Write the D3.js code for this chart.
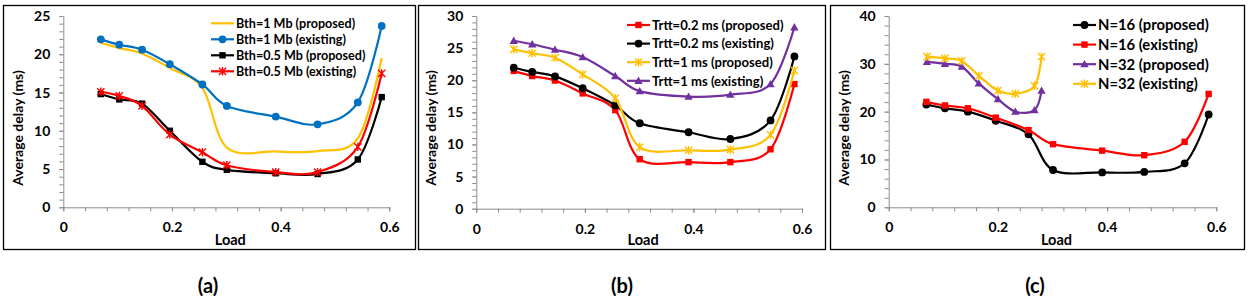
<!DOCTYPE html>
<html>
<head>
<meta charset="utf-8">
<script src="https://cdn.jsdelivr.net/npm/d3@7"></script>
<style>
  html, body { margin: 0; padding: 0; background: #fff; }
  svg { display: block; }
  text { font-family: Lato, "Open Sans", sans-serif; font-weight: bold; fill: #000; }
</style>
</head>
<body>
<svg id="chart" width="1248" height="301"></svg>
<script>
// ---------- data ----------
const loadX = [0.069, 0.103, 0.145, 0.196, 0.256, 0.301, 0.391, 0.468, 0.542, 0.586];
const loadN32 = [0.070, 0.103, 0.134, 0.165, 0.200, 0.232, 0.267, 0.280];

// (a)
const bth1Proposed  = [21.5, 20.8, 20.1, 18.2, 15.6, 7.8, 7.3, 7.35, 9.0, 19.5];
const bth1Existing  = [21.95, 21.25, 20.6, 18.7, 16.05, 13.25, 11.85, 10.85, 13.7, 23.7];
const bth05Proposed = [14.8, 14.1, 13.55, 10.0, 5.95, 4.9, 4.45, 4.35, 6.25, 14.4];
const bth05Existing = [15.1, 14.55, 13.25, 9.5, 7.2, 5.5, 4.6, 4.6, 7.9, 17.5];
// (b)
const trtt02Proposed = [21.45, 20.65, 19.95, 17.95, 15.35, 7.7, 7.25, 7.25, 9.25, 19.4];
const trtt02Existing = [21.95, 21.3, 20.6, 18.75, 16.1, 13.3, 11.9, 10.85, 13.75, 23.7];
const trtt1Proposed  = [24.8, 24.2, 23.5, 20.9, 17.2, 9.6, 9.1, 9.2, 11.5, 21.5];
const trtt1Existing  = [26.15, 25.6, 24.75, 23.6, 20.65, 18.3, 17.45, 17.75, 19.4, 28.25];
// (c)
const n16Proposed = [21.5, 20.7, 20.0, 18.1, 15.25, 7.8, 7.3, 7.4, 9.2, 19.4];
const n16Existing = [22.05, 21.3, 20.7, 18.75, 16.15, 13.2, 11.85, 10.9, 13.7, 23.7];
const n32Proposed = [30.4, 30.0, 29.4, 25.9, 22.6, 20.0, 20.3, 24.4];
const n32Existing = [31.5, 31.15, 30.6, 27.5, 24.4, 23.75, 25.4, 31.5];

const xTickLabels = ["0", "0.2", "0.4", "0.6"];
const xTicks = [0, 0.2, 0.4, 0.6];
const yTicksA = [0, 5, 10, 15, 20, 25];
const yTicksB = [0, 5, 10, 15, 20, 25, 30];
const yTicksC = [0, 10, 20, 30, 40];
const captions = ["(a)", "(b)", "(c)"];
const yTitle = "Average delay (ms)";
const xTitle = "Load";

// ---------- styles ----------
const C = { yellow: "#FFC000", blue: "#0070C0", black: "#000000", red: "#FF0000", purple: "#7030A0" };

const panels = [
  {
    box: [3, 5, 415, 249], plot: [63.3, 389.3, 207.3, 16], yTicks: yTicksA, yMinor: 1,
    yTitleX: 18, caption: 0, capX: 208,
    legend: { x: 211, y: 23.3, dy: 16, font: 12.6 },
    series: [
      { name: "Bth=1 Mb (proposed)", x: loadX, y: bth1Proposed, color: C.yellow, marker: null },
      { name: "Bth=1 Mb (existing)", x: loadX, y: bth1Existing, color: C.blue, marker: "circle" },
      { name: "Bth=0.5 Mb (proposed)", x: loadX, y: bth05Proposed, color: C.black, marker: "square" },
      { name: "Bth=0.5 Mb (existing)", x: loadX, y: bth05Existing, color: C.red, marker: "star" }
    ]
  },
  {
    box: [418, 5, 825, 249], plot: [476.3, 802, 208.7, 16], yTicks: yTicksB, yMinor: 1,
    yTitleX: 431, caption: 1, capX: 622,
    legend: { x: 627, y: 25, dy: 18.6, font: 13.1 },
    series: [
      { name: "Trtt=0.2 ms (proposed)", x: loadX, y: trtt02Proposed, color: C.red, marker: "square" },
      { name: "Trtt=0.2 ms (existing)", x: loadX, y: trtt02Existing, color: C.black, marker: "circle" },
      { name: "Trtt=1 ms (proposed)", x: loadX, y: trtt1Proposed, color: C.yellow, marker: "star" },
      { name: "Trtt=1 ms (existing)", x: loadX, y: trtt1Existing, color: C.purple, marker: "triangle" }
    ]
  },
  {
    box: [830, 5, 1244, 249], plot: [888.7, 1216.3, 207.3, 16], yTicks: yTicksC, yMinor: 2,
    yTitleX: 844, caption: 2, capX: 1035,
    legend: { x: 1073, y: 25, dy: 19.6, font: 14.8 },
    series: [
      { name: "N=16 (proposed)", x: loadX, y: n16Proposed, color: C.black, marker: "circle" },
      { name: "N=16 (existing)", x: loadX, y: n16Existing, color: C.red, marker: "square" },
      { name: "N=32 (proposed)", x: loadN32, y: n32Proposed, color: C.purple, marker: "triangle" },
      { name: "N=32 (existing)", x: loadN32, y: n32Existing, color: C.yellow, marker: "star" }
    ]
  }
];

const svg = d3.select("#chart");

function drawMarker(g, type, cx, cy, color) {
  if (!type) return;
  if (type === "circle") {
    g.append("circle").attr("cx", cx).attr("cy", cy).attr("r", 3.9).attr("fill", color);
  } else if (type === "square") {
    g.append("rect").attr("x", cx - 3.2).attr("y", cy - 3.2).attr("width", 6.4).attr("height", 6.4).attr("fill", color);
  } else if (type === "triangle") {
    const s = 4.2;
    g.append("path").attr("d", `M${cx},${cy - s}L${cx + s},${cy + s * 0.75}L${cx - s},${cy + s * 0.75}Z`).attr("fill", color);
  } else if (type === "star") {
    const s = 3.6;
    g.append("path")
      .attr("d", `M${cx - s},${cy - s}L${cx + s},${cy + s}M${cx - s},${cy + s}L${cx + s},${cy - s}M${cx},${cy - s - 0.6}L${cx},${cy + s + 0.6}`)
      .attr("stroke", color).attr("stroke-width", 1.4).attr("fill", "none");
  }
}

panels.forEach(p => {
  const g = svg.append("g");
  const [bx0, by0, bx1, by1] = p.box;
  g.append("rect").attr("x", bx0 + 0.5).attr("y", by0 + 0.5)
    .attr("width", bx1 - bx0).attr("height", by1 - by0)
    .attr("fill", "none").attr("stroke", "#000").attr("stroke-width", 1.3);

  const [px0, px1, py0, py1] = p.plot;
  const yMax = p.yTicks[p.yTicks.length - 1];
  const x = d3.scaleLinear().domain([0, 0.6]).range([px0, px1]);
  const y = d3.scaleLinear().domain([0, yMax]).range([py0, py1]);

  // minor ticks
  const yMinorTicks = d3.range(0, yMax + 0.001, p.yMinor);
  const xMinorTicks = d3.range(0, 0.6001, 0.04);
  g.append("g").attr("transform", `translate(${px0},0)`)
    .call(d3.axisLeft(y).tickValues(yMinorTicks).tickSize(4).tickSizeOuter(0).tickFormat(""))
    .call(a => a.selectAll("line,path").attr("stroke", "#8c8c8c").attr("stroke-width", 1));
  g.append("g").attr("transform", `translate(0,${py0})`)
    .call(d3.axisBottom(x).tickValues(xMinorTicks).tickSize(4).tickSizeOuter(0).tickFormat(""))
    .call(a => a.selectAll("line,path").attr("stroke", "#8c8c8c").attr("stroke-width", 1));

  // major labels
  const yAx = g.append("g").attr("transform", `translate(${px0},0)`)
    .call(d3.axisLeft(y).tickValues(p.yTicks).tickSize(4).tickPadding(9).tickSizeOuter(0).tickFormat(d3.format("d")));
  yAx.select(".domain").remove();
  yAx.selectAll("line").attr("stroke", "#8c8c8c");
  yAx.selectAll("text").attr("font-size", 14).attr("font-family", "Lato").attr("font-weight", "bold").attr("fill", "#000");

  const xAx = g.append("g").attr("transform", `translate(0,${py0})`)
    .call(d3.axisBottom(x).tickValues(xTicks).tickSize(4).tickPadding(11).tickSizeOuter(0)
      .tickFormat((d, i) => xTickLabels[i]));
  xAx.select(".domain").remove();
  xAx.selectAll("line").attr("stroke", "#8c8c8c");
  xAx.selectAll("text").attr("font-size", 14).attr("font-family", "Lato").attr("font-weight", "bold").attr("fill", "#000");

  // titles
  g.append("text").attr("x", (px0 + px1) / 2 + 4).attr("y", 245)
    .attr("text-anchor", "middle").attr("font-size", 14.5).text(xTitle);
  g.append("text").attr("transform", `translate(${p.yTitleX + 5},128) rotate(-90)`)
    .attr("text-anchor", "middle").attr("font-size", 14).text(yTitle);

  // series
  const line = d3.line().curve(d3.curveCardinal.tension(0));
  p.series.forEach(s => {
    const pts = s.x.map((v, i) => [x(v), y(s.y[i])]);
    g.append("path").attr("d", line(pts)).attr("fill", "none")
      .attr("stroke", s.color).attr("stroke-width", 2.2);
    const mg = g.append("g");
    pts.forEach(pt => drawMarker(mg, s.marker, pt[0], pt[1], s.color));
  });

  // legend
  const L = p.legend;
  p.series.forEach((s, i) => {
    const ly = L.y + i * L.dy;
    const lg = g.append("g");
    lg.append("line").attr("x1", L.x).attr("x2", L.x + 23).attr("y1", ly).attr("y2", ly)
      .attr("stroke", s.color).attr("stroke-width", 2.2);
    drawMarker(lg, s.marker, L.x + 11.5, ly, s.color);
    lg.append("text").attr("x", L.x + 25).attr("y", ly + L.font * 0.36)
      .attr("font-size", L.font).text(s.name);
  });

  // caption
  svg.append("text").attr("x", p.capX).attr("y", 293).attr("text-anchor", "middle")
    .attr("font-size", 20).text(captions[p.caption]);
});
</script>
</body>
</html>
